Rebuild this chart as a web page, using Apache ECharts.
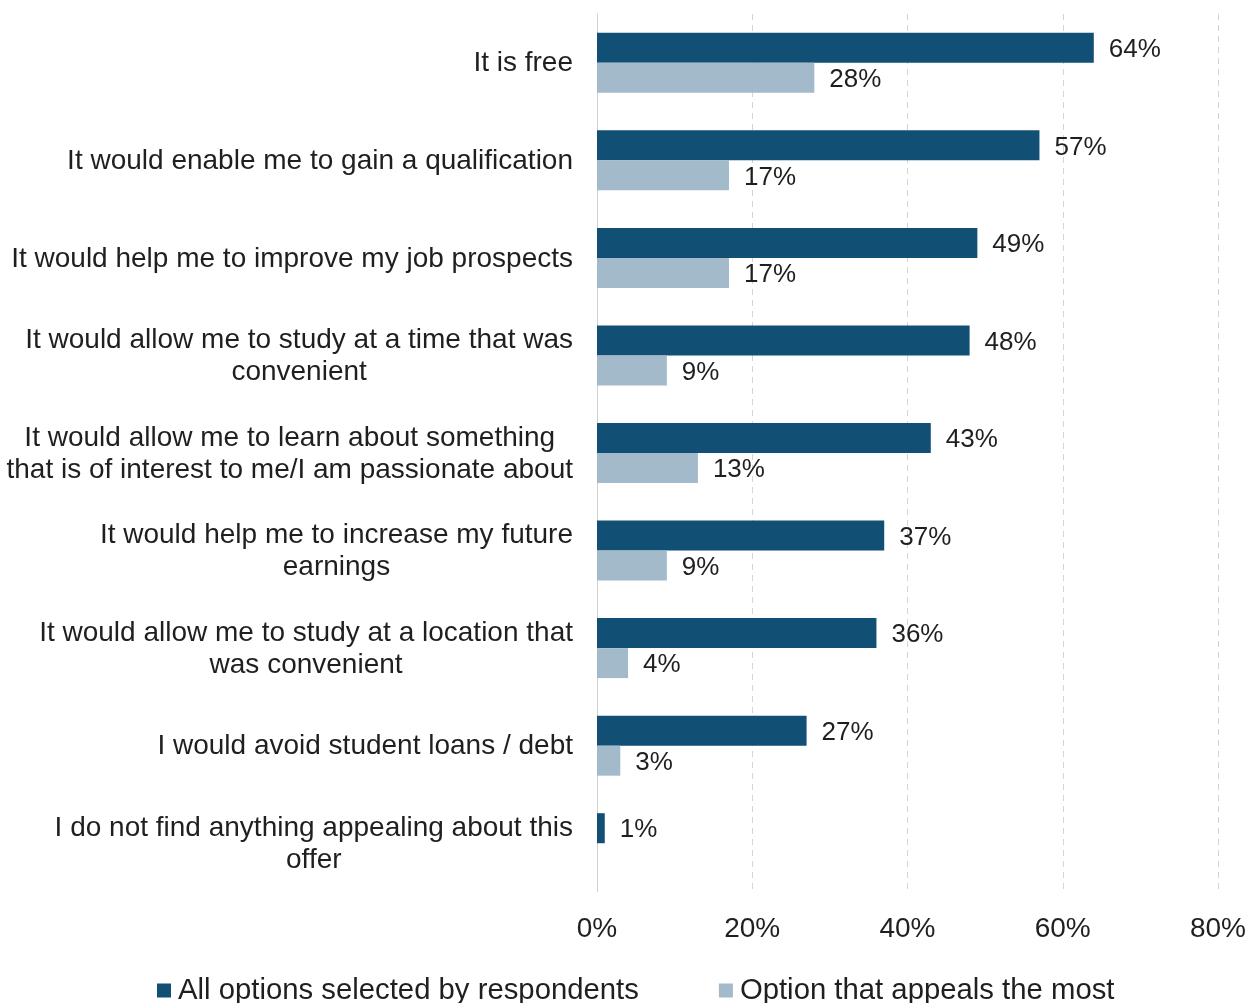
<!DOCTYPE html>
<html>
<head>
<meta charset="utf-8">
<title>What appeals about the offer</title>
<script src="https://cdn.jsdelivr.net/npm/echarts@6/dist/echarts.min.js"></script>
<style>
  html, body { margin: 0; padding: 0; background: #ffffff; }
  #chart { width: 1253px; height: 1003px; }
</style>
</head>
<body>
<div id="chart"></div>
<script>
// Reasons, listed top to bottom
const categories = [
  'It is free',
  'It would enable me to gain a qualification',
  'It would help me to improve my job prospects',
  'It would allow me to study at a time that was\nconvenient',
  'It would allow me to learn about something\nthat is of interest to me/I am passionate about',
  'It would help me to increase my future\nearnings',
  'It would allow me to study at a location that\nwas convenient',
  'I would avoid student loans / debt',
  'I do not find anything appealing about this\noffer'
];
const allSelected = [64, 57, 49, 48, 43, 37, 36, 27, 1];
const mostAppealing = [28, 17, 17, 9, 13, 9, 4, 3, 0];
const xTicks = [0, 20, 40, 60, 80];
const seriesNames = ['All options selected by respondents', 'Option that appeals the most'];

const FONT = '"Liberation Sans", Arial, sans-serif';
const TEXT = '#1f1f1f';
const DARK = '#124f74';
const LIGHT = '#a3bacb';

const chart = echarts.init(document.getElementById('chart'));

function valueLabel() {
  return {
    show: true,
    position: 'right',
    distance: 15,
    offset: [0, 2],
    color: TEXT,
    fontFamily: FONT,
    fontSize: 26,
    formatter: p => (p.value === 0 ? '' : p.value + '%')
  };
}

chart.setOption({
  animation: false,
  grid: { left: 597, right: 35, top: 14, bottom: 111 },
  legend: {
    top: 971,
    left: 152,
    itemWidth: 14,
    itemHeight: 14,
    itemGap: 80,
    icon: 'rect',
    textStyle: { color: TEXT, fontFamily: FONT, fontSize: 29.3, padding: [0, 0, 0, 2] },
    data: seriesNames
  },
  xAxis: {
    type: 'value',
    min: xTicks[0],
    max: xTicks[xTicks.length - 1],
    interval: 20,
    axisLine: { show: false },
    axisTick: { show: false },
    axisLabel: {
      margin: 23,
      color: TEXT,
      fontFamily: FONT,
      fontSize: 28,
      formatter: v => v + '%'
    },
    splitLine: {
      show: true,
      showMinLine: false,
      lineStyle: { color: '#d4d4d4', type: [6, 5], width: 1 }
    }
  },
  yAxis: {
    type: 'category',
    inverse: true,
    data: categories,
    axisLine: { show: true, lineStyle: { color: '#d0d0d0', width: 1 } },
    axisTick: { show: false },
    axisLabel: {
      margin: 24,
      color: TEXT,
      fontFamily: FONT,
      fontSize: 28,
      lineHeight: 32,
      formatter: v => v.split('\n').map(s => '{c|' + s + '}').join('\n'),
      rich: {
        c: { align: 'center', color: TEXT, fontFamily: FONT, fontSize: 28, lineHeight: 32, padding: [2, 0, 0, 0] }
      }
    }
  },
  series: [
    {
      name: seriesNames[0],
      type: 'bar',
      data: allSelected,
      barWidth: 30,
      barGap: '0%',
      itemStyle: { color: DARK },
      label: valueLabel()
    },
    {
      name: seriesNames[1],
      type: 'bar',
      data: mostAppealing,
      barWidth: 30,
      barGap: '0%',
      itemStyle: { color: LIGHT },
      label: valueLabel()
    }
  ]
});
</script>
</body>
</html>
